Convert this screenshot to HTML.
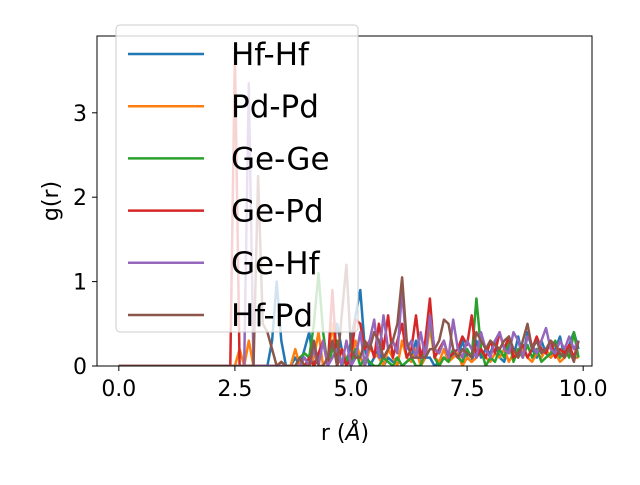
<!DOCTYPE html>
<html><head><meta charset="utf-8"><style>body{margin:0;background:#fff}svg{font-family:"DejaVu Sans","Liberation Sans",sans-serif}</style></head>
<body>
<svg id="chart" width="640" height="480" xmlns="http://www.w3.org/2000/svg">
<rect width="640" height="480" fill="#fff"/>
<defs><clipPath id="clip"><rect x="97" y="36" width="495" height="330"/></clipPath></defs>
<g id="series" clip-path="url(#clip)"></g>
<rect x="97" y="36" width="495" height="330" fill="none" stroke="#000" stroke-width="1"/>
<g id="ticks"></g>
<text x="345" y="440" font-size="22" text-anchor="middle">r (<tspan font-style="italic">Å</tspan>)</text>
<text x="58" y="201" font-size="22" text-anchor="middle" transform="rotate(-90 58 201)">g(r)</text>
<g id="legend"></g>
</svg>
<script>
const names=["Hf-Hf","Pd-Pd","Ge-Ge","Ge-Pd","Ge-Hf","Hf-Pd"];
const colors=["#1f77b4","#ff7f0e","#2ca02c","#d62728","#9467bd","#8c564b"];
const xTicks=[0,2.5,5,7.5,10];
const xTickLabels=["0.0","2.5","5.0","7.5","10.0"];
const yTicks=[0,1,2,3];
const yTickLabels=["0","1","2","3"];
const Z=[0,0,0,0,0,0,0,0,0,0,0,0,0,0,0,0,0,0,0,0];
const hfhf=Z.concat([0,0,0,0,0,0,0,0,0,0, 0,0,0,0.3,1.0,0.3,0,0,0.1,0, 0.2,0.4,0,0.1,0.3,0,0.2,0.5,0.2,0, 0.3,0.6,0.9,0.2,0,0.1,0.2,0,0.1,0.05, 0.1,0,0.05,0.1,0.3,0,0.1,0.1,0,0.05, 0.1,0.05,0.15,0.1,0.3,0.1,0.05,0.3,0.1,0.2, 0.15,0.3,0.1,0.05,0.25,0.1,0.35,0.1,0.4,0.2, 0.1,0.3,0.15,0.1,0.2,0.35,0.1,0.25,0.4,0.2]);
const pdpd=Z.concat([0,0,0,0,0,0,0.2,0,0.3,0, 0,0,0,0,0,0.05,0,0,0.2,0, 0,0,0.1,0.4,0,0.1,0.5,0,0.2,0.1, 0,0.3,0.1,0,0.2,0.15,0.1,0,0.2,0.1, 0,0.3,0.1,0.05,0.2,0,0.1,0.45,0.1,0.05, 0.2,0.05,0.1,0.15,0,0.1,0.05,0.1,0.2,0.1, 0.05,0.15,0.1,0.2,0.05,0.15,0.1,0.2,0.1,0.05, 0.15,0.1,0.2,0.1,0.15,0.05,0.1,0.2,0.1,0.1]);
const gege=Z.concat([0,0,0,0,0,0,0,0,0,0, 0,0,0,0,0,0,0,0,0,0.1, 0.15,0.1,0.5,1.1,0.4,0,0.2,0.3,0,0.1, 0,0.2,0,0.1,0.05,0,0,0.1,0.05,0, 0.1,0,0.05,0.1,0,0,0.2,0.6,0.1,0, 0.1,0.05,0.2,0.1,0.05,0.2,0.1,0.8,0.2,0, 0.1,0.05,0.2,0.1,0.3,0.05,0.2,0.1,0.25,0.1, 0.2,0.05,0.1,0.15,0.3,0.1,0.2,0.1,0.4,0.1]);
const gepd=Z.concat([0,0,0,0,0,3.7,0,0,0,0, 0,0,0,0,0,0,0,0,0,0, 0,0.1,0,0.15,0.3,0,0.9,0,0.2,0, 0.1,0.55,0.5,0.2,0.3,0.1,0.5,0.2,0.6,0.1, 0.3,0.5,0.1,0.2,0.6,0.1,0.3,0.8,0.1,0.2, 0.3,0.1,0.15,0.2,0.35,0.25,0.6,0.1,0.2,0.1, 0.3,0.15,0.4,0.2,0.35,0.1,0.15,0.25,0.1,0.2, 0.35,0.2,0.15,0.3,0.1,0.2,0.15,0.25,0.1,0.3]);
const gehf=Z.concat([0,0,0,0,0,0,0,0,3.35,0, 0,0,0,0,0,0,0,0,0,0, 0.1,0,0.2,0,0.3,0,0.1,0.2,0,0.3, 0,0.1,0.4,0,0.3,0.55,0.1,0.6,0.2,0.3, 0.15,0.9,0.2,0.3,0.1,0.4,0.1,0.6,0.2,0.15, 0.3,0.1,0.55,0.2,0.1,0.3,0.2,0.1,0.4,0.2, 0.1,0.3,0.4,0.2,0.15,0.4,0.3,0.1,0.35,0.25, 0.15,0.3,0.45,0.2,0.15,0.3,0.2,0.35,0.2,0.3]);
const hfpd=Z.concat([0,0,0,0,0,0,0,0,0,0, 2.25,0.5,0.4,0.2,0,0.05,0,0,0,0.1, 0,0,0.3,0,0,0.1,0.3,0,0.6,1.2, 0.2,0.1,0.1,0.3,0.2,0.4,0.3,0.1,0.2,0.3, 0.5,1.05,0.3,0.1,0.1,0.1,0.1,0.2,0.2,0.3, 0.55,0.5,0.2,0.1,0.2,0.15,0.1,0.4,0.3,0.2, 0.3,0.25,0.2,0.3,0.35,0.2,0.1,0.3,0.5,0.2, 0.3,0.15,0.2,0.3,0.25,0.15,0.1,0.2,0.05,0.3]);
const seriesData=[hfhf,pdpd,gege,gepd,gehf,hfpd];
const rStep=0.1;
const NS="http://www.w3.org/2000/svg";
const X0=97,X1=592,Y0=366,Y1=36,xmin=-0.47,xmax=10.19,ymin=0,ymax=3.91;
const xs=v=>X0+(v-xmin)/(xmax-xmin)*(X1-X0);
const ys=v=>Y0-(v-ymin)/(ymax-ymin)*(Y0-Y1);
const sg=document.getElementById('series');
seriesData.forEach((d,k)=>{
  const p=document.createElementNS(NS,'polyline');
  
  
  p.setAttribute('points',d.map((v,i)=>xs(i*rStep).toFixed(1)+','+ys(v).toFixed(1)).join(' '));
  p.setAttribute('fill','none');p.setAttribute('stroke',colors[k]);p.setAttribute('stroke-width','2.5');p.setAttribute('stroke-linejoin','round');
  sg.appendChild(p);
});
const tg=document.getElementById('ticks');
xTicks.forEach((t,i)=>{
  const l=document.createElementNS(NS,'line');
  
  
  l.setAttribute('x1',xs(t));l.setAttribute('x2',xs(t));l.setAttribute('y1',Y0);l.setAttribute('y2',Y0+5);l.setAttribute('stroke','#000');
  tg.appendChild(l);
  const tx=document.createElementNS(NS,'text');
  
  
  tx.setAttribute('x',xs(t));tx.setAttribute('y',Y0+30);tx.setAttribute('font-size','22');tx.setAttribute('text-anchor','middle');
  tx.textContent=xTickLabels[i];tg.appendChild(tx);
});
yTicks.forEach((t,i)=>{
  const l=document.createElementNS(NS,'line');
  
  
  l.setAttribute('x1',X0-5);l.setAttribute('x2',X0);l.setAttribute('y1',ys(t));l.setAttribute('y2',ys(t));l.setAttribute('stroke','#000');
  tg.appendChild(l);
  const tx=document.createElementNS(NS,'text');
  
  
  tx.setAttribute('x',X0-10);tx.setAttribute('y',ys(t)+8);tx.setAttribute('font-size','22');tx.setAttribute('text-anchor','end');
  tx.textContent=yTickLabels[i];tg.appendChild(tx);
});
const lg=document.getElementById('legend');
const box=document.createElementNS(NS,'rect');


box.setAttribute('x',116);box.setAttribute('y',25);box.setAttribute('width',242);box.setAttribute('height',307);box.setAttribute('rx',4);
box.setAttribute('fill','#fff');box.setAttribute('fill-opacity','0.8');box.setAttribute('stroke','#ccc');
lg.appendChild(box);
names.forEach((n,k)=>{
  const y=54+k*52.2;
  const l=document.createElementNS(NS,'line');
  
  
  l.setAttribute('x1',128);l.setAttribute('x2',204);l.setAttribute('y1',y);l.setAttribute('y2',y);l.setAttribute('stroke',colors[k]);l.setAttribute('stroke-width','2.5');
  lg.appendChild(l);
  const tx=document.createElementNS(NS,'text');
  
  
  tx.setAttribute('x',231);tx.setAttribute('y',y+11);tx.setAttribute('font-size','31');
  tx.textContent=n;lg.appendChild(tx);
});
</script>
</body></html>
